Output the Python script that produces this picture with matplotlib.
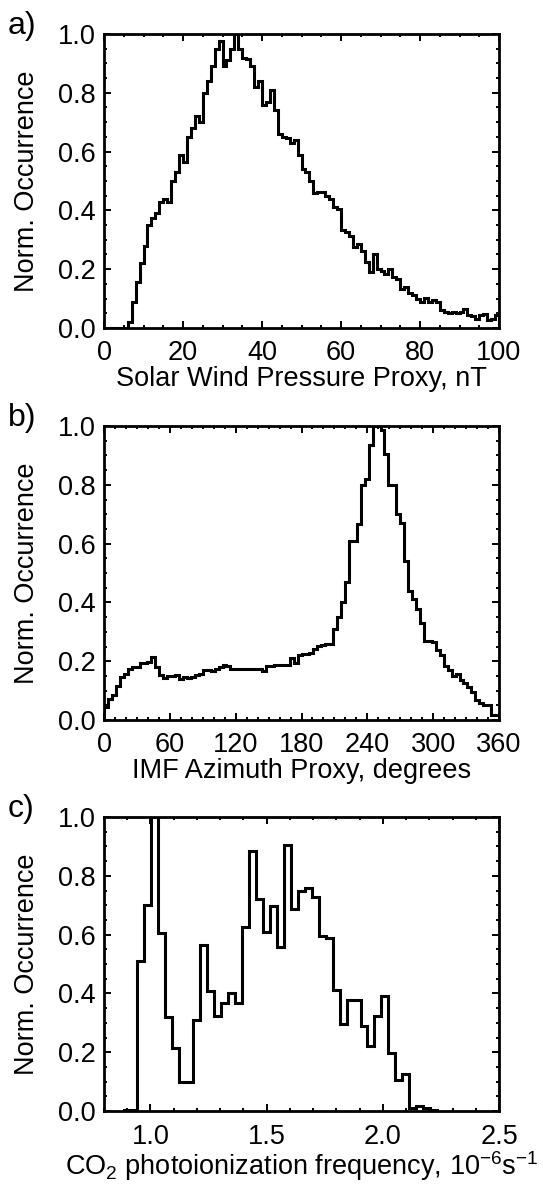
import matplotlib
matplotlib.use("Agg")
import matplotlib.pyplot as plt
import numpy as np
from matplotlib.ticker import MultipleLocator, FormatStrFormatter

plt.rcParams["font.family"] = ["Liberation Sans", "DejaVu Sans"]
plt.rcParams["mathtext.fontset"] = "custom"
plt.rcParams["mathtext.rm"] = "Liberation Sans"
plt.rcParams["mathtext.it"] = "Liberation Sans:italic"

# a) solar wind pressure proxy, 1 nT bins from 0 to 100
pressure_edge0 = 0.0
pressure_width = 1.0
pressure_occ = [
    0, 0, 0, 0, 0, 0,
    0.02, 0.088, 0.156, 0.22, 0.28, 0.35, 0.375, 0.39, 0.43, 0.44,
    0.43, 0.50, 0.53, 0.59, 0.565, 0.65, 0.68, 0.72, 0.70, 0.80,
    0.84, 0.89, 0.95, 0.975, 0.89, 0.91, 0.95, 1.0, 0.95, 0.92,
    0.916, 0.89, 0.82, 0.84, 0.76, 0.77, 0.81, 0.74, 0.66, 0.65,
    0.646, 0.63, 0.64, 0.59, 0.54, 0.53, 0.50, 0.46,
    0.463, 0.463, 0.45, 0.44, 0.41, 0.405, 0.333, 0.325, 0.314, 0.275,
    0.286, 0.263, 0.224, 0.19, 0.252, 0.20, 0.195, 0.184, 0.20, 0.172,
    0.167, 0.133, 0.138, 0.118, 0.111, 0.10, 0.088, 0.103, 0.088, 0.094,
    0.088, 0.06, 0.056, 0.052, 0.054, 0.052, 0.054, 0.065, 0.043, 0.041,
    0.032, 0.045, 0.049, 0.026, 0.029, 0.043,
]

# b) IMF azimuth proxy, 3.6 degree bins from 0 to 360
azimuth_edge0 = 0.0
azimuth_width = 3.6
azimuth_occ = [
    0.045, 0.07, 0.085, 0.115, 0.147, 0.158, 0.175, 0.18, 0.179, 0.195,
    0.195, 0.198, 0.213, 0.18, 0.153, 0.142, 0.15, 0.15, 0.153, 0.138,
    0.147, 0.144, 0.147, 0.153, 0.158, 0.17, 0.17, 0.168, 0.172, 0.179,
    0.187, 0.183, 0.175, 0.172, 0.172, 0.174, 0.174, 0.172, 0.174, 0.172,
    0.168, 0.183, 0.183, 0.186, 0.186, 0.187, 0.187, 0.21, 0.193, 0.22,
    0.224, 0.225, 0.227, 0.24, 0.251, 0.255, 0.26, 0.26, 0.311, 0.349,
    0.40, 0.47, 0.61, 0.61, 0.668, 0.80, 0.82, 0.934, 1.0, 1.0,
    0.985, 0.906, 0.80, 0.80, 0.70, 0.67, 0.54, 0.44, 0.41, 0.376,
    0.33, 0.27, 0.27, 0.265, 0.238, 0.22, 0.183, 0.17, 0.15, 0.158,
    0.136, 0.125, 0.113, 0.096, 0.068, 0.057, 0.051, 0.051, 0.017, 0.017,
]

# c) CO2 photoionization frequency, 0.03 bins
co2_edge0 = 0.884
co2_width = 0.03
co2_occ = [
    0.003, 0.004, 0.51, 0.70, 1.0, 0.607, 0.32, 0.214, 0.10, 0.10,
    0.308, 0.563, 0.408, 0.322, 0.367, 0.40, 0.367, 0.626, 0.884, 0.72,
    0.609, 0.696, 0.558, 0.904, 0.686, 0.75, 0.758, 0.728, 0.594, 0.59,
    0.413, 0.295, 0.376, 0.376, 0.288, 0.22, 0.322, 0.39, 0.197, 0.104,
    0.127, 0.01, 0.016, 0.01, 0.005,
]

panels = [
    ("a)", pressure_occ, pressure_edge0, pressure_width, (0, 100), 20, 5, "%d",
     "Solar Wind Pressure Proxy, nT"),
    ("b)", azimuth_occ, azimuth_edge0, azimuth_width, (0, 360), 60, 10, "%d",
     "IMF Azimuth Proxy, degrees"),
    ("c)", co2_occ, co2_edge0, co2_width, (0.8, 2.5), 0.5, 0.1, "%.1f",
     r"CO$_2$ photoionization frequency, 10$^{-6}$s$^{-1}$"),
]

W, H = 543, 1192
fig = plt.figure(figsize=(W / 100, H / 100), dpi=100)

tops = [34, 426, 817]
left, right = 104, 499
height = 294
fs = 19.5

for (tag, occ, e0, w, xlim, major, minor, fmt, xlabel), top in zip(panels, tops):
    ax = fig.add_axes([left / W, 1 - (top + height) / H, (right - left) / W, height / H])
    occ = np.asarray(occ)
    edges = e0 + w * np.arange(len(occ) + 1)
    ax.stairs(occ, edges, baseline=0, color="black", linewidth=2.2)
    ax.set_xlim(*xlim)
    ax.set_ylim(0, 1.0)
    ax.xaxis.set_major_locator(MultipleLocator(major))
    ax.xaxis.set_minor_locator(MultipleLocator(minor))
    ax.xaxis.set_major_formatter(FormatStrFormatter(fmt))
    ax.yaxis.set_major_locator(MultipleLocator(0.2))
    ax.yaxis.set_minor_locator(MultipleLocator(0.05))
    ax.yaxis.set_major_formatter(FormatStrFormatter("%.1f"))
    ax.tick_params(which="both", direction="in", top=True, right=True,
                   width=1.4, labelsize=fs)
    ax.tick_params(which="major", length=5)
    ax.tick_params(which="minor", length=2.5)
    ax.tick_params(axis="x", which="major", pad=9)
    ax.tick_params(axis="y", which="major", pad=6)
    for sp in ax.spines.values():
        sp.set_linewidth(2.0)
    ax.set_xlabel(xlabel, fontsize=fs, labelpad=0)
    ax.set_ylabel("Norm. Occurrence", fontsize=fs, labelpad=13)
    fig.text(8 / W, 1 - (top - 8) / H, tag, fontsize=23, ha="left", va="center")

fig.savefig("out.png", dpi=100)
